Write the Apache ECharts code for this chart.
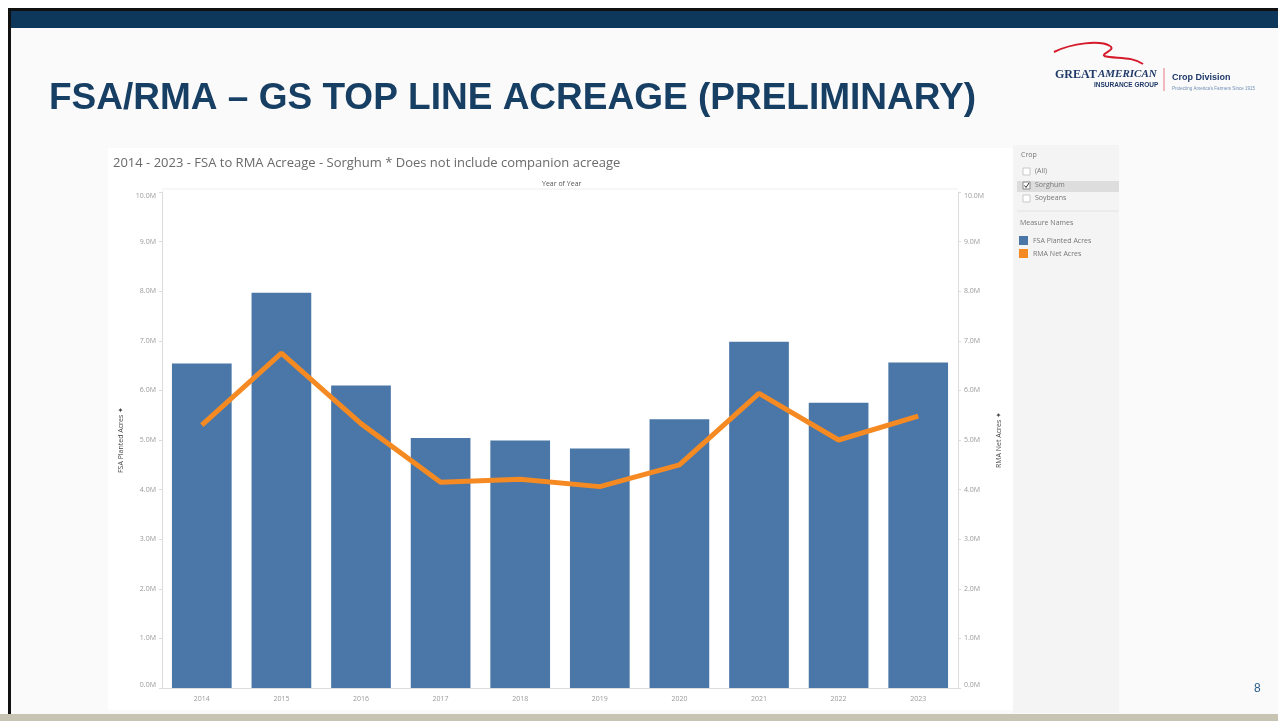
<!DOCTYPE html>
<html>
<head>
<meta charset="utf-8">
<script src="https://cdn.jsdelivr.net/npm/echarts@6/dist/echarts.min.js"></script>
<style>
html,body{margin:0;padding:0;background:#fff;}
#c{width:1278px;height:721px;}
</style>
</head>
<body>
<div id="c"></div>
<script>
const years = ['2014','2015','2016','2017','2018','2019','2020','2021','2022','2023'];
const fsaPlantedAcres = [6.54, 7.97, 6.10, 5.04, 4.99, 4.83, 5.42, 6.98, 5.75, 6.56];
const rmaNetAcres = [5.30, 6.75, 5.33, 4.15, 4.21, 4.06, 4.50, 5.94, 5.00, 5.48];
const axisTicks = [0,1,2,3,4,5,6,7,8,9,10];
const slideTitle = 'FSA/RMA \u2013 GS TOP LINE ACREAGE (PRELIMINARY)';
const chartTitle = '2014 - 2023 - FSA to RMA Acreage - Sorghum * Does not include companion acreage';
const cropFilter = ['(All)','Sorghum','Soybeans'];

const chart = echarts.init(document.getElementById('c'));
const tickFmt = v => v.toFixed(1) + 'M';
const labelStyle = {color:'#9a9a9a', fontSize:7, fontFamily:'Open Sans'};

function yAxis(name, pos, gap){
  return {
    type:'value', position:pos, min:axisTicks[0], max:axisTicks[axisTicks.length-1], interval:1,
    name:name, nameLocation:'middle', nameGap:gap,
    nameTextStyle:{color:'#444', fontSize:7, fontFamily:'Open Sans'},
    axisLine:{show:true, lineStyle:{color:'#dcdcdc'}},
    axisTick:{show:true, length:3, lineStyle:{color:'#dcdcdc'}},
    axisLabel:Object.assign({formatter:tickFmt, margin:6, verticalAlignMinLabel:'bottom', verticalAlignMaxLabel:'top'}, labelStyle),
    splitLine:{show:false}
  };
}

function txt(x, y, s, font, color){
  return {type:'text', x:x, y:y, style:{text:s, fill:color, font:font, textVerticalAlign:'top', verticalAlign:'top'}, z:10};
}

const graphic = [
  {type:'rect', shape:{x:0,y:0,width:1278,height:721}, style:{fill:'#fafafa'}, z:-10},
  {type:'rect', shape:{x:0,y:0,width:1278,height:9}, style:{fill:'#ffffff'}, z:-9},
  {type:'rect', shape:{x:0,y:0,width:8,height:721}, style:{fill:'#ffffff'}, z:-9},
  {type:'rect', shape:{x:8,y:8,width:1270,height:3}, style:{fill:'#111111'}, z:-8},
  {type:'rect', shape:{x:8,y:8,width:3,height:713}, style:{fill:'#111111'}, z:-8},
  {type:'rect', shape:{x:11,y:11,width:1267,height:17}, style:{fill:'#0e385b'}, z:-8},
  {type:'rect', shape:{x:0,y:714,width:1278,height:7}, style:{fill:'#c8c4b3'}, z:-8},
  txt(49, 80, slideTitle, 'bold 37px "Liberation Sans", Arial, sans-serif', '#173e63'),
  // chart panel
  {type:'rect', shape:{x:108,y:148,width:905,height:562}, style:{fill:'#ffffff'}, z:-7},
  txt(542, 180, 'Year of Year', '7px "Open Sans"', '#555'),
  {type:'line', shape:{x1:162,y1:189,x2:958,y2:189}, style:{stroke:'#eeeeee', lineWidth:1}, z:-6},
  // filter / legend panel
  {type:'rect', shape:{x:1013,y:145,width:106,height:568}, style:{fill:'#f4f4f4'}, z:-7},
  txt(1021, 151, 'Crop', '7px "Open Sans"', '#777'),
  {type:'rect', shape:{x:1017,y:181,width:102,height:11}, style:{fill:'#dddddd'}, z:-6},
  {type:'rect', shape:{x:1023,y:168,width:7,height:7}, style:{fill:'#fff', stroke:'#c8c8c8', lineWidth:1}, z:10},
  {type:'rect', shape:{x:1023,y:182,width:7,height:7}, style:{fill:'#fff', stroke:'#888', lineWidth:1}, z:10},
  {type:'polyline', shape:{points:[[1024.5,185.5],[1026,187.5],[1029,183]]}, style:{stroke:'#333', lineWidth:1, fill:null}, z:11},
  {type:'rect', shape:{x:1023,y:195,width:7,height:7}, style:{fill:'#fff', stroke:'#c8c8c8', lineWidth:1}, z:10},
  txt(1035, 167, cropFilter[0], '7px "Open Sans"', '#777'),
  txt(1035, 181, cropFilter[1], '7px "Open Sans"', '#777'),
  txt(1035, 194, cropFilter[2], '7px "Open Sans"', '#777'),
  {type:'line', shape:{x1:1017,y1:211,x2:1119,y2:211}, style:{stroke:'#e2e2e2', lineWidth:1}, z:10},
  txt(1020, 219, 'Measure Names', '7px "Open Sans"', '#777'),
  // logo
  {type:'bezierCurve', shape:{x1:1054,y1:52,cpx1:1072,cpy1:43,cpx2:1100,cpy2:40,x2:1110,y2:46}, style:{stroke:'#d51a2b', lineWidth:2, fill:null}, z:10},
  {type:'bezierCurve', shape:{x1:1110,y1:46,cpx1:1116,cpy1:50,cpx2:1102,cpy2:53,x2:1104,y2:56}, style:{stroke:'#d51a2b', lineWidth:2, fill:null}, z:10},
  {type:'bezierCurve', shape:{x1:1104,y1:56,cpx1:1115,cpy1:59,cpx2:1132,cpy2:56,x2:1143,y2:64}, style:{stroke:'#d51a2b', lineWidth:2, fill:null}, z:10},
  txt(1055, 69, 'GREAT', 'bold 12px "Liberation Serif", serif', '#1f3a68'),
  txt(1098, 69, 'AMERICAN', 'italic bold 11px "Liberation Serif", serif', '#1f3a68'),
  txt(1094, 82, 'INSURANCE GROUP', 'bold 6.5px "Liberation Sans", sans-serif', '#1f3a68'),
  {type:'line', shape:{x1:1164,y1:68,x2:1164,y2:91}, style:{stroke:'#e37a83', lineWidth:1}, z:10},
  txt(1172, 73, 'Crop Division', 'bold 9px "Liberation Sans Narrow", "Liberation Sans", sans-serif', '#1f3a68'),
  txt(1172, 86, "Protecting America's Farmers Since 1915", '4.5px "Liberation Sans", sans-serif', '#6f8fb5'),
  txt(1254, 683, '8', '12px "Liberation Sans", sans-serif', '#2b5d8a')
];

chart.setOption({
  animation:false,
  title:{text:chartTitle, left:108, top:152, textStyle:{color:'#6a6a6a', fontSize:13, fontWeight:'normal', fontFamily:'Open Sans'}},
  legend:{
    orient:'vertical', left:1014, top:231, itemWidth:9, itemHeight:9, itemGap:4, icon:'rect',
    textStyle:{color:'#777', fontSize:7, fontFamily:'Open Sans'},
    data:['FSA Planted Acres','RMA Net Acres']
  },
  grid:{left:162, right:320, top:192, bottom:33},
  xAxis:{
    type:'category', data:years,
    axisLine:{show:true, lineStyle:{color:'#dcdcdc'}},
    axisTick:{show:false},
    axisLabel:Object.assign({margin:7}, labelStyle)
  },
  yAxis:[yAxis('FSA Planted Acres \u2726','left',37), yAxis('RMA Net Acres \u2726','right',37)],
  series:[
    {name:'FSA Planted Acres', type:'bar', data:fsaPlantedAcres, yAxisIndex:0, barCategoryGap:'25%', itemStyle:{color:'#4a77a8'}},
    {name:'RMA Net Acres', type:'line', data:rmaNetAcres, yAxisIndex:1, symbol:'none', lineStyle:{color:'#f58a23', width:5}, itemStyle:{color:'#f58a23'}, z:5}
  ],
  graphic:graphic
});
</script>
</body>
</html>
